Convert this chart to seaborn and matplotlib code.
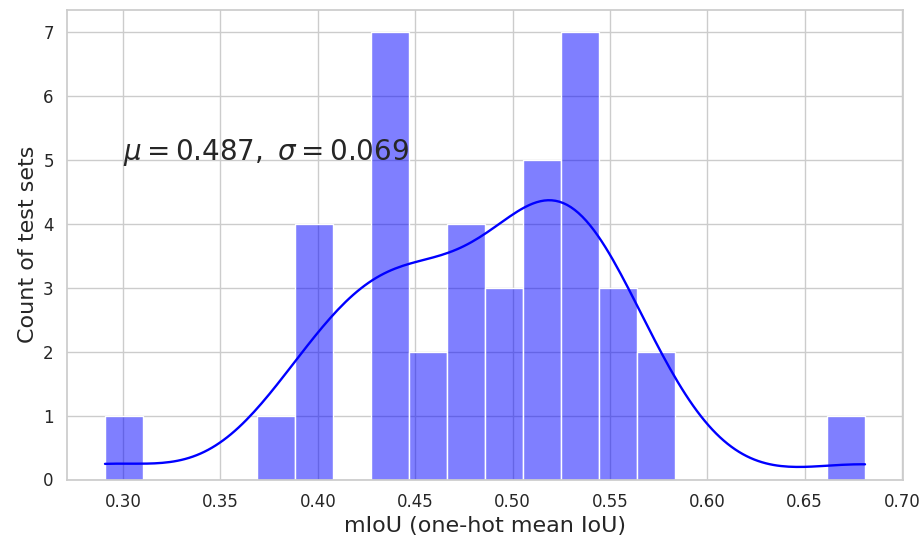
import numpy as np
import pandas as pd
import seaborn as sns
import matplotlib
matplotlib.use("Agg")
import matplotlib.pyplot as plt

miou = [
    0.2907,
    0.384,
    0.391, 0.397, 0.401, 0.405,
    0.428, 0.430, 0.432, 0.434, 0.437, 0.440, 0.443,
    0.449, 0.457,
    0.468, 0.474, 0.479, 0.484,
    0.494, 0.500, 0.504,
    0.512, 0.516, 0.519, 0.521, 0.523,
    0.525, 0.527, 0.529, 0.531, 0.533, 0.536, 0.540,
    0.547, 0.552, 0.558,
    0.569, 0.577,
    0.681,
]
n_bins = 20
annotation = r"$\mu=0.487,\ \sigma=0.069$"
x_label = "mIoU (one-hot mean IoU)"
y_label = "Count of test sets"

df = pd.DataFrame({"miou": miou})

sns.set_theme(style="whitegrid")
fig = plt.figure(figsize=(9.22, 5.42), dpi=100)
ax = fig.add_axes([67/922, 1-479.5/542, (903-67)/922, (479.5-10)/542])
sns.histplot(data=df, x="miou", bins=n_bins, kde=True, color="blue", alpha=0.5,
             edgecolor="white", line_kws={"linewidth": 1.7}, ax=ax)
ax.text(0.30, 5.0, annotation, fontsize=20, color="0.15")
ax.set_xlabel(x_label, fontsize=16)
ax.set_ylabel(y_label, fontsize=16)
ax.tick_params(labelsize=12)
fig.savefig("out.png", dpi=100)
